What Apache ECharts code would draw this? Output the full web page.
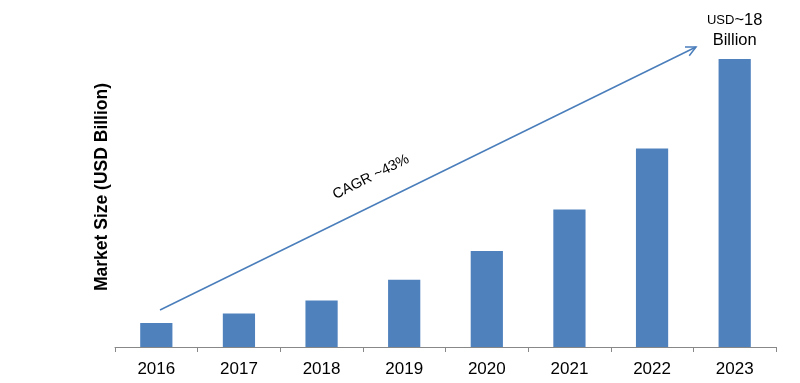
<!DOCTYPE html>
<html>
<head>
<meta charset="utf-8">
<script src="https://cdn.jsdelivr.net/npm/echarts@6/dist/echarts.min.js"></script>
<style>
html,body{margin:0;padding:0;background:#fff;}
#chart{width:800px;height:383px;}
</style>
</head>
<body>
<div id="chart"></div>
<script>
const categories = ['2016','2017','2018','2019','2020','2021','2022','2023'];
const marketSize = [1.5, 2.1, 2.9, 4.2, 6.0, 8.6, 12.4, 18.0];
const yAxisTitle = 'Market Size (USD Billion)';
const cagrText = 'CAGR ~43%';

const chart = echarts.init(document.getElementById('chart'), null, {renderer:'canvas'});

const barColor = '#4f81bd';
const arrowColor = '#4a7ebb';

// arrow annotation geometry
const ax1 = 160, ay1 = 310, ax2 = 696, ay2 = 47;
const len = Math.hypot(ax2-ax1, ay2-ay1);
const ux = (ax2-ax1)/len, uy = (ay2-ay1)/len;
const headLen = 11, headAng = 26*Math.PI/180;
function rot(x,y,a){return [x*Math.cos(a)-y*Math.sin(a), x*Math.sin(a)+y*Math.cos(a)];}
const h1 = rot(-ux,-uy, headAng), h2 = rot(-ux,-uy,-headAng);

const data = marketSize.map((v,i)=>{
  if (i === marketSize.length-1) {
    return {
      value: v,
      label: {
        show: true, position: 'top', distance: 9,
        formatter: '{a|USD}{b|~18}\n{b|Billion}',
        rich: {
          a: {fontSize: 13, fontFamily: 'Arial', color: '#000', lineHeight: 20},
          b: {fontSize: 16.5, fontFamily: 'Arial', color: '#000', lineHeight: 20}
        }
      }
    };
  }
  return v;
});

chart.setOption({
  animation: false,
  backgroundColor: '#ffffff',
  grid: {left: 115, right: 24, top: 27, bottom: 36},
  xAxis: {
    type: 'category',
    data: categories,
    axisLine: {lineStyle: {color: '#888', width: 1}},
    axisTick: {show: true, length: 5, lineStyle: {color: '#888'}},
    axisLabel: {color: '#000', fontSize: 17, fontFamily: 'Arial', margin: 14}
  },
  yAxis: {
    type: 'value',
    min: 0, max: 20,
    name: yAxisTitle,
    nameLocation: 'middle',
    nameGap: 4,
    nameTextStyle: {fontSize: 17.5, fontWeight: 'bold', color: '#000', fontFamily: 'Arial'},
    axisLine: {show: false},
    axisTick: {show: false},
    axisLabel: {show: false},
    splitLine: {show: false}
  },
  series: [{
    type: 'bar',
    data: data,
    barCategoryGap: '61%',
    itemStyle: {color: barColor}
  }],
  graphic: [
    {type: 'line', shape: {x1: ax1, y1: ay1, x2: ax2, y2: ay2}, style: {stroke: arrowColor, lineWidth: 1.5}, z: 100},
    {type: 'polyline', shape: {points: [[ax2+h1[0]*headLen, ay2+h1[1]*headLen],[ax2,ay2],[ax2+h2[0]*headLen, ay2+h2[1]*headLen]]}, style: {stroke: arrowColor, lineWidth: 1.5, fill: null}, z: 100},
    {type: 'text', x: 371, y: 177, rotation: 26.5*Math.PI/180,
     style: {text: cagrText, fontSize: 14.5, fontFamily: 'Arial', fill: '#000', align: 'center', verticalAlign: 'middle'}, z: 100}
  ]
});
</script>
</body>
</html>
